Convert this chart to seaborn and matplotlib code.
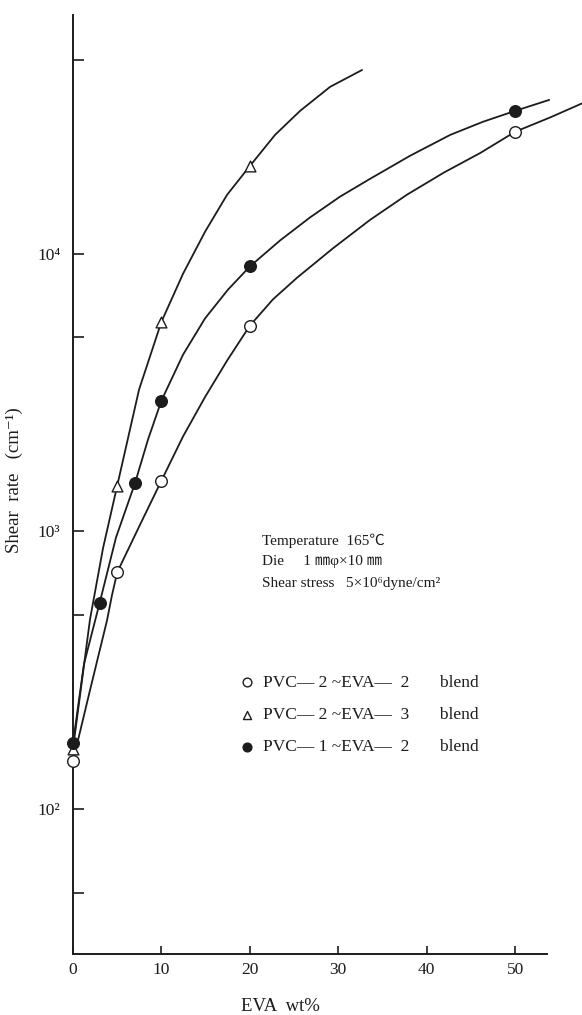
import numpy as np
import pandas as pd
import matplotlib
matplotlib.use("Agg")
import matplotlib.pyplot as plt
import seaborn as sns
from matplotlib.ticker import FixedLocator, FixedFormatter, NullFormatter

# ---- measured points ----
a_x = [0, 5, 10, 20, 50]                      # PVC-2 ~ EVA-2 (open circle)
a_y = [149, 713, 1524, 5510, 27500]
b_x = [0, 5, 10, 20]                          # PVC-2 ~ EVA-3 (triangle)
b_y = [165, 1462, 5690, 20700]
c_x = [0, 3, 7, 10, 20, 50]                   # PVC-1 ~ EVA-2 (filled circle)
c_y = [173, 551, 1489, 2960, 9000, 32700]

# ---- hand-drawn curves ----
a_curve_x = [0, 1.92, 3.85, 4.41, 5, 7.47, 10, 12.44, 14.93, 17.42, 20, 22.62,
             25.34, 29.41, 33.6, 37.78, 41.97, 46.04, 50, 53.96, 57.58]
a_curve_y = [149, 268, 479, 590, 713, 1040, 1524, 2198, 3048, 4122, 5510, 6856,
             8200, 10470, 13250, 16330, 19630, 23050, 27500, 30970, 34810]
b_curve_x = [0, 1.92, 3.39, 5, 7.47, 10, 12.44, 14.93, 17.42, 20, 22.85,
             25.68, 29.07, 32.69]
b_curve_y = [165, 482, 869, 1462, 3243, 5690, 8470, 12000, 16300, 20700, 26800,
             32700, 39900, 45900]
c_curve_x = [0, 1.24, 3, 4.86, 7, 8.48, 10, 12.44, 14.93, 17.53, 20, 23.42,
             26.81, 30.2, 33.6, 38.12, 42.65, 46.38, 50, 53.85]
c_curve_y = [173, 333, 551, 951, 1489, 2142, 2960, 4330, 5850, 7430, 9000, 11170,
             13520, 16060, 18620, 22540, 26790, 29890, 32700, 35810]

labels = ["PVC\u2014 2 ~EVA\u2014  2       blend",
          "PVC\u2014 2 ~EVA\u2014  3       blend",
          "PVC\u2014 1 ~EVA\u2014  2       blend"]
x_ticks = [0, 10, 20, 30, 40, 50]
y_major = [1e2, 1e3, 1e4]
y_major_labels = ["10\u00b2", "10\u00b3", "10\u2074"]
y_minor = [50, 500, 5000, 50000]
conditions = ["Temperature  165\u2103",
              "Die     1 \u339c\u03c6\u00d710 \u339c",
              "Shear stress   5\u00d710\u2076dyne/cm\u00b2"]

sns.set_style("ticks")
plt.rcParams["font.family"] = ["Liberation Serif", "Noto Sans CJK JP", "DejaVu Sans"]
plt.rcParams["axes.linewidth"] = 1.4

fig = plt.figure(figsize=(5.82, 10.15), dpi=100)
ax = fig.add_axes([73/582, 1-954/1015, 474/582, 939/1015])

ink = "#1c1c1c"
lw = 1.3
for cx, cy in [(a_curve_x, a_curve_y), (b_curve_x, b_curve_y), (c_curve_x, c_curve_y)]:
    df = pd.DataFrame({"x": cx, "y": cy})
    sns.lineplot(data=df, x="x", y="y", sort=False, color=ink, lw=lw, ax=ax,
                 clip_on=False, zorder=2)

ha = ax.scatter(a_x, a_y, s=70, marker="o", facecolor="white", edgecolor=ink,
                linewidth=1.0, zorder=3, label=labels[0], clip_on=False)
hb = ax.scatter(b_x, b_y, s=60, marker="^", facecolor="white", edgecolor=ink,
                linewidth=1.0, zorder=3, label=labels[1], clip_on=False)
hc = ax.scatter(c_x, c_y, s=70, marker="o", facecolor=ink, edgecolor=ink,
                linewidth=1.0, zorder=4, label=labels[2], clip_on=False)

ax.set_yscale("log")
ax.set_xlim(0, 53.6)
ax.set_ylim(30.1, 72400)
sns.despine(ax=ax)
ax.spines["left"].set_color(ink)
ax.spines["bottom"].set_color(ink)

ax.xaxis.set_major_locator(FixedLocator(x_ticks))
ax.set_xticklabels([str(t) for t in x_ticks])
ax.yaxis.set_major_locator(FixedLocator(y_major))
ax.yaxis.set_major_formatter(FixedFormatter(y_major_labels))
ax.yaxis.set_minor_locator(FixedLocator(y_minor))
ax.yaxis.set_minor_formatter(NullFormatter())
ax.tick_params(axis="both", which="both", direction="in", colors=ink,
               labelsize=12.5, width=1.2)
ax.tick_params(axis="y", which="both", length=8, pad=9)
ax.tick_params(axis="x", which="major", length=6, pad=6)

ax.set_xlabel("EVA  wt%", fontsize=13.5, color=ink)
ax.xaxis.set_label_coords((280-73)/474, (954-998)/939)
ax.set_ylabel("Shear  rate   (cm\u207b\u00b9)", fontsize=13.5, color=ink)
ax.yaxis.set_label_coords((23-73)/474, (954-480)/939)

for i, t in enumerate(conditions):
    ax.text((262-73)/474, (954-(541+21*i))/939, t, transform=ax.transAxes,
            fontsize=11, color=ink, va="center", ha="left")

leg = ax.legend(handles=[ha, hb, hc], labels=labels, loc="center left",
                bbox_to_anchor=((239-73)/474, (954-715)/939), frameon=False,
                fontsize=12.5, handletextpad=0.42, labelspacing=0.92,
                borderpad=0, borderaxespad=0, markerscale=0.75, handlelength=0.96)
for t in leg.get_texts():
    t.set_color(ink)

fig.savefig("out.png", dpi=100)
